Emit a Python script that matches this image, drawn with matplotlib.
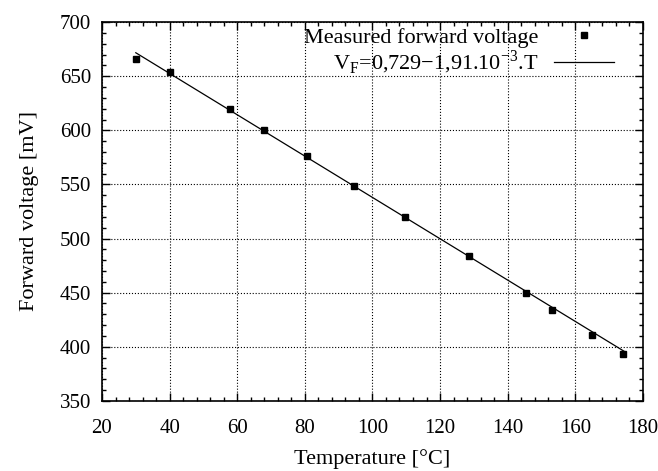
import numpy as np
import matplotlib.pyplot as plt
from matplotlib.ticker import MultipleLocator

plt.rcParams['font.family'] = ['Liberation Serif', 'DejaVu Serif']
plt.rcParams['mathtext.fontset'] = 'custom'
plt.rcParams['mathtext.rm'] = 'Liberation Serif'

temperature = [30, 40, 58, 68, 80.5, 94.5, 109.5, 128.5, 145.5, 153, 165, 174]
voltage = [666, 654, 620, 600, 576, 549, 520, 484, 450, 434, 411, 393]

fit_a = 729.0
fit_b = -1.91
fit_t = np.array([30, 175])
fit_v = fit_a + fit_b * fit_t

fig = plt.figure(figsize=(6.58, 4.71), dpi=100)
ax = fig.add_axes([0.155, 0.149, 0.822, 0.804])

ax.plot(temperature, voltage, 's', color='black', markersize=5,
        label='Measured forward voltage')
ax.plot(fit_t, fit_v, '-', color='black', linewidth=0.9,
        label=r'V$_\mathrm{F}$=0,729$-$1,91.10$^{-3}$.T')

ax.set_xlim(20, 180)
ax.set_ylim(350, 700)
ax.xaxis.set_major_locator(MultipleLocator(20))
ax.xaxis.set_minor_locator(MultipleLocator(4))
ax.yaxis.set_major_locator(MultipleLocator(50))
ax.yaxis.set_minor_locator(MultipleLocator(10))
ax.tick_params(which='both', direction='in', top=True, right=True, labelsize=15)
ax.tick_params(axis='x', which='major', pad=13)
ax.tick_params(axis='y', which='major', pad=8)
ax.tick_params(which='major', length=6, width=1)
ax.tick_params(which='minor', length=3, width=1)
for s in ax.spines.values():
    s.set_linewidth(1.2)

ax.grid(True, which='major', color='black', linestyle=':', linewidth=0.8)

ax.set_xlabel('Temperature [°C]', fontsize=16, labelpad=8)
ax.set_ylabel('Forward voltage [mV]', fontsize=16, labelpad=15)

ax.legend(loc='upper right', frameon=False, markerfirst=False, fontsize=16,
          handlelength=2.7, borderaxespad=0, borderpad=0, labelspacing=0.05,
          handletextpad=0.7, bbox_to_anchor=(614 / 658, 1 - 27 / 471),
          bbox_transform=fig.transFigure)

fig.savefig('out.png', dpi=100)
